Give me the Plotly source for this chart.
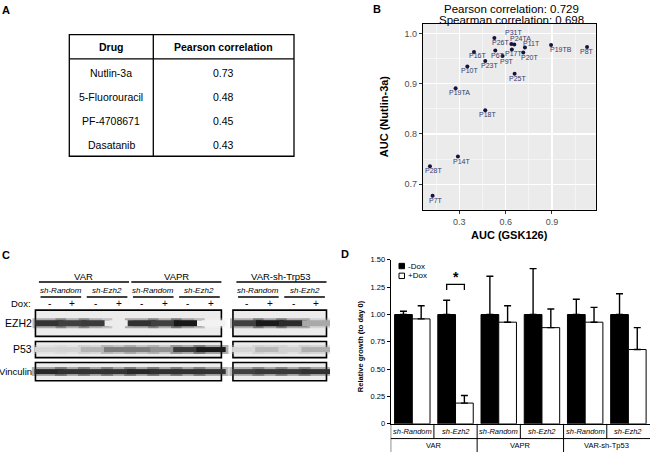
import plotly.graph_objects as go

W, H = 650, 457
FONT = "Arial, Liberation Sans, sans-serif"


def px(x):
    return x / W


def py(y):
    return 1 - y / H


def txt(text, x, y, xref="paper", yref="paper", size=10, xanchor="center", yanchor="middle",
        angle=0, color="black", xshift=0, yshift=0):
    return dict(text=text, x=x, y=y, xref=xref, yref=yref, xanchor=xanchor, yanchor=yanchor,
                showarrow=False, textangle=angle, xshift=xshift, yshift=yshift,
                font=dict(size=size, family=FONT, color=color))


# ---------------- Panel A data ----------------
table_headers = ["Drug", "Pearson correlation"]
drugs = ["Nutlin-3a", "5-Fluorouracil", "PF-4708671", "Dasatanib"]
pearson = ["0.73", "0.48", "0.45", "0.43"]

# ---------------- Panel B data ----------------
samples = ["P26T", "P31T", "P24TA", "P11T", "P19TB", "P8T", "P16T", "P6T", "P17T",
           "P9T", "P20T", "P23T", "P10T", "P25T", "P19TA", "P18T", "P14T", "P28T", "P7T"]
auc_gsk126 = [0.527, 0.637, 0.656, 0.725, 0.894, 1.127, 0.395, 0.533, 0.640,
              0.580, 0.714, 0.468, 0.352, 0.658, 0.276, 0.468, 0.291, 0.110, 0.127]
auc_nutlin = [0.991, 0.979, 0.978, 0.972, 0.977, 0.973, 0.963, 0.966, 0.968,
              0.955, 0.962, 0.945, 0.934, 0.920, 0.891, 0.847, 0.755, 0.736, 0.677]
# label offsets in pixels (style)
label_dx = [6.0, 2.0, 6.3, 6.5, 9.7, 0.0, 3.3, 3.0, 1.3, 4.0, 6.7, 4.0, 1.7, 3.3, 4.3, 2.0, 4.0, 4.0, 3.3]
label_dy = [-4.3, 11.3, 6.3, 3.7, -4.3, -4.7, -3.7, -4.7, -4.3, -5.0, -5.0, -4.0, -4.3, -4.7,
            -4.7, -4.3, -4.7, -4.7, -4.7]
pearson_r = "0.729"
spearman_r = "0.698"
b_xticks = [0.3, 0.6, 0.9]
b_yticks = [0.7, 0.8, 0.9, 1.0]

# ---------------- Panel C data ----------------
blot_groups = ["VAR", "VAPR", "VAR-sh-Trp53"]
blot_block = [0, 0, 1]
hairpins = ["sh-Random", "sh-Ezh2"]
dox_states = ["-", "+"]
proteins = ["EZH2", "P53", "Vinculin"]
band_ezh2 = [0.85, 0.80, 0.82, 0.03, 0.86, 0.80, 0.96, 0.0, 0.80, 0.95, 0.88, 0.35]
band_p53 = [0.14, 0.15, 0.30, 0.55, 0.55, 0.45, 0.82, 0.95, 0.14, 0.28, 0.16, 0.32]
band_vinculin = [0.90, 0.86, 0.85, 0.85, 0.90, 0.86, 0.86, 0.85, 0.80, 0.83, 0.83, 0.86]
bands = [band_ezh2, band_p53, band_vinculin]

# ---------------- Panel D data ----------------
d_groups = ["VAR", "VAPR", "VAR-sh-Tp53"]
d_hairpins = ["sh-Random", "sh-Ezh2"]
minus_dox = [1.00, 1.00, 1.00, 1.00, 1.00, 1.00]
minus_dox_err = [0.03, 0.13, 0.35, 0.42, 0.14, 0.19]
plus_dox = [0.96, 0.19, 0.93, 0.88, 0.93, 0.68]
plus_dox_err = [0.12, 0.07, 0.15, 0.17, 0.135, 0.20]
d_yticks = [0, 0.25, 0.5, 0.75, 1.0, 1.25, 1.5]
d_yticktext = ["0", "0.25", "0.50", "0.75", "1.00", "1.25", "1.50"]
sig_category = 1

fig = go.Figure()
shapes = []
ann = []

# ======== Panel letters ========
for letter, (lx, ly) in zip("ABCD", [(0, 6), (371, 5), (0, 256), (339, 255)]):
    ann.append(txt("<b>%s</b>" % letter, px(lx), py(ly), size=11, xanchor="left"))

# ======== Panel A: table ========
tL, tR, tT, tB = 69.3, 294.0, 31.3, 155.3
tMid, tHead = 153.3, 56.0
shapes.append(dict(type="rect", xref="paper", yref="paper", x0=px(tL), x1=px(tR),
                   y0=py(tB), y1=py(tT), line=dict(color="black", width=1.3)))
shapes.append(dict(type="line", xref="paper", yref="paper", x0=px(tMid), x1=px(tMid),
                   y0=py(tB), y1=py(tT), line=dict(color="black", width=1.3)))
shapes.append(dict(type="line", xref="paper", yref="paper", x0=px(tL), x1=px(tR),
                   y0=py(tHead), y1=py(tHead), line=dict(color="black", width=1.3)))
col_c = [(tL + tMid) / 2, (tMid + tR) / 2]
for j, h in enumerate(table_headers):
    ann.append(txt("<b>%s</b>" % h, px(col_c[j]), py(44.3), size=10.5))
row_h = 24.6
for i, (d, r) in enumerate(zip(drugs, pearson)):
    yy = 70.0 + i * row_h
    ann.append(txt(d, px(col_c[0]), py(yy), size=10.5))
    ann.append(txt(r, px(col_c[1]), py(yy), size=10.5))

# ======== Panel B: scatter ========
shapes.append(dict(type="rect", xref="x domain", yref="y domain", x0=0, x1=1, y0=0, y1=1,
                   fillcolor="#ebebeb", line=dict(width=0), layer="below"))
fig.add_trace(go.Scatter(
    x=auc_gsk126, y=auc_nutlin, mode="markers", cliponaxis=False,
    marker=dict(size=4, color="#14143c"),
    xaxis="x", yaxis="y", showlegend=False, hoverinfo="skip"))
for s, xv, yv, dx, dy in zip(samples, auc_gsk126, auc_nutlin, label_dx, label_dy):
    ann.append(txt(s, xv, yv, xref="x", yref="y", size=7, color="#3a3a6e", xshift=dx, yshift=dy))
ann.append(txt("Pearson correlation: %s" % pearson_r, px(511.5), py(5.5), size=11.5))
ann.append(txt("Spearman correlation: %s" % spearman_r, px(511.5), py(16.3), size=11.5))
ann.append(txt("<b>AUC (GSK126)</b>", px(509), py(235.5), size=11))
ann.append(txt("<b>AUC (Nutlin-3a)</b>", px(383.5), py(115), size=11, angle=-90))

# ======== Panel C: western blot ========
lane_unit = 23.1
lane0_px = 49.3
block_gap = 0.55
lanes = []
lane_group = []
for g, blk in enumerate(blot_block):
    for h in range(len(hairpins)):
        for d in range(len(dox_states)):
            k = len(lanes)
            lanes.append(k + blk * block_gap)
            lane_group.append((g, h, d))


def cx(pxv):
    return (pxv - lane0_px) / lane_unit


row_top = [312.3, 344.3, 365.7]
row_bot = [339.0, 360.7, 384.3]
band_thick = [6, 5, 5]
band_len = [20, 21, 21]
gray_scale = [[0, "#f2f2f2"], [0.5, "#8a8a8a"], [1, "#0e0e0e"]]

for blk in sorted(set(blot_block)):
    xs = [lanes[i] for i in range(len(lanes)) if blot_block[lane_group[i][0]] == blk]
    for r in range(len(proteins)):
        shapes.append(dict(type="rect", xref="x3", yref="y3", x0=min(xs) - 0.6, x1=max(xs) + 0.45,
                           y0=row_top[r], y1=row_bot[r], fillcolor="#ececec",
                           line=dict(color="black", width=1.6), layer="below"))

for r, prot in enumerate(proteins):
    yc = (row_top[r] + row_bot[r]) / 2
    fig.add_trace(go.Scatter(
        x=lanes, y=[yc] * len(lanes), mode="markers", xaxis="x3", yaxis="y3",
        marker=dict(symbol="line-ew", size=band_len[r] + 4, opacity=0.35,
                    line=dict(width=band_thick[r] + 4, color=bands[r], colorscale=gray_scale,
                              cmin=0, cmax=1)),
        showlegend=False, hoverinfo="skip"))
    fig.add_trace(go.Scatter(
        x=lanes, y=[yc] * len(lanes), mode="markers", xaxis="x3", yaxis="y3",
        marker=dict(symbol="line-ew", size=band_len[r],
                    line=dict(width=band_thick[r], color=bands[r], colorscale=gray_scale,
                              cmin=0, cmax=1)),
        showlegend=False, hoverinfo="skip"))
    ann.append(txt(prot, cx(34.0), yc - 0.5, xref="x3", yref="y3", xanchor="right",
                   size=10.5 if prot != "Vinculin" else 9.5))

for g, name in enumerate(blot_groups):
    xs = [lanes[i] for i in range(len(lanes)) if lane_group[i][0] == g]
    ann.append(txt(name, (min(xs) + max(xs)) / 2, 277.7, xref="x3", yref="y3", size=9.5))
    shapes.append(dict(type="line", xref="x3", yref="y3", x0=min(xs) - 0.45, x1=max(xs) + 0.45,
                       y0=283.5, y1=283.5, line=dict(color="black", width=1.5)))
    for h, hp in enumerate(hairpins):
        xh = [lanes[i] for i in range(len(lanes)) if lane_group[i][0] == g and lane_group[i][1] == h]
        ann.append(txt("<i>%s</i>" % hp, (min(xh) + max(xh)) / 2, 292.5, xref="x3", yref="y3",
                       size=8))
        shapes.append(dict(type="line", xref="x3", yref="y3", x0=min(xh) - 0.38, x1=max(xh) + 0.38,
                           y0=298.8, y1=298.8, line=dict(color="black", width=1.5)))
for i, xl in enumerate(lanes):
    ann.append(txt(dox_states[lane_group[i][2]], xl, 305.5, xref="x3", yref="y3", size=10))
ann.append(txt("Dox:", cx(32.5), 305.5, xref="x3", yref="y3", xanchor="right", size=9.5))

# ======== Panel D: bars ========
cats = list(range(len(d_groups) * len(d_hairpins)))
fig.add_trace(go.Bar(
    x=cats, y=minus_dox, name="-Dox", xaxis="x2", yaxis="y2",
    marker=dict(color="black", line=dict(color="black", width=1)),
    error_y=dict(type="data", array=minus_dox_err, arrayminus=[0] * len(cats), symmetric=False,
                 color="black", thickness=1.4, width=3.5),
    showlegend=False, hoverinfo="skip"))
fig.add_trace(go.Bar(
    x=cats, y=plus_dox, name="+Dox", xaxis="x2", yaxis="y2",
    marker=dict(color="white", line=dict(color="black", width=1)),
    error_y=dict(type="data", array=plus_dox_err, arrayminus=[0] * len(cats), symmetric=False,
                 color="black", thickness=1.4, width=3.5),
    showlegend=False, hoverinfo="skip"))

bar_half = 0.205
sig_lo, sig_hi = 1.224, 1.275
fig.add_trace(go.Scatter(
    x=[sig_category - bar_half, sig_category - bar_half, sig_category + bar_half,
       sig_category + bar_half],
    y=[sig_lo, sig_hi, sig_hi, sig_lo], mode="lines", xaxis="x2", yaxis="y2",
    line=dict(color="black", width=1.3), showlegend=False, hoverinfo="skip"))
ann.append(txt("<b>*</b>", sig_category, 1.34, xref="x2", yref="y2", size=14))

for i, (lab, col) in enumerate([("-Dox", "black"), ("+Dox", "white")]):
    yc = 267.3 + i * 10
    shapes.append(dict(type="rect", xref="paper", yref="paper", x0=px(399), x1=px(404.5),
                       y0=py(yc + 2.75), y1=py(yc - 2.75), fillcolor=col,
                       line=dict(color="black", width=1)))
    ann.append(txt(lab, px(405.5), py(yc), xanchor="left", size=8))

ann.append(txt("<b>Relative growth (to day 0)</b>", px(360), py(349), size=7.5, angle=-90))

base_px, mid_px = 428.3, 443.3
shapes.append(dict(type="line", xref="x2", yref="paper", x0=-0.5, x1=-0.5, y0=0, y1=py(base_px),
                   line=dict(color="black", width=1)))
shapes.append(dict(type="line", xref="x2", yref="paper", x0=-0.5, x1=len(cats) - 0.5,
                   y0=py(mid_px), y1=py(mid_px), line=dict(color="black", width=1)))
nh = len(d_hairpins)
for k in cats[:-1]:
    is_group_edge = (k + 1) % nh == 0
    shapes.append(dict(type="line", xref="x2", yref="paper", x0=k + 0.5, x1=k + 0.5,
                       y0=0 if is_group_edge else py(mid_px), y1=py(base_px),
                       line=dict(color="black", width=1)))
for k in cats:
    ann.append(txt("<i>%s</i>" % d_hairpins[k % nh], k, py(436.3), xref="x2", size=7.5))
for g, name in enumerate(d_groups):
    ann.append(txt(name, g * nh + (nh - 1) / 2, py(450.5), xref="x2", size=7.5))

# ======== Layout ========
c_range = [cx(0), cx(330)]
fig.update_layout(
    width=W, height=H, margin=dict(l=0, r=0, t=0, b=0),
    paper_bgcolor="white", plot_bgcolor="rgba(0,0,0,0)",
    font=dict(family=FONT, color="black"),
    barmode="group", bargap=0.18, bargroupgap=0,
    xaxis=dict(domain=[px(422.7), px(595.7)], range=[0.063, 1.183], anchor="y",
               tickvals=b_xticks, ticktext=["%.1f" % v for v in b_xticks],
               showgrid=True, gridcolor="white", gridwidth=1.1,
               minor=dict(tickvals=[0.15, 0.45, 0.75, 1.05], showgrid=True, gridcolor="white",
                          gridwidth=0.5, ticks=""),
               zeroline=False, showline=True, mirror=True, linecolor="black", linewidth=1,
               ticks="outside", ticklen=3, tickcolor="#333333",
               tickfont=dict(size=9, color="#4d4d4d", family=FONT)),
    yaxis=dict(domain=[py(210), py(20)], range=[0.649, 1.0195], anchor="x",
               tickvals=b_yticks, ticktext=["%.1f" % v for v in b_yticks],
               showgrid=True, gridcolor="white", gridwidth=1.1,
               minor=dict(tickvals=[0.65, 0.75, 0.85, 0.95], showgrid=True, gridcolor="white",
                          gridwidth=0.5, ticks=""),
               zeroline=False, showline=True, mirror=True, linecolor="black", linewidth=1,
               ticks="outside", ticklen=3, tickcolor="#333333",
               tickfont=dict(size=9, color="#4d4d4d", family=FONT)),
    xaxis2=dict(domain=[px(390.7), 1.0], range=[-0.5, len(cats) - 0.5], anchor="y2",
                showticklabels=False, ticks="", showgrid=False, zeroline=False,
                showline=True, linecolor="black", linewidth=1),
    yaxis2=dict(domain=[py(base_px), py(261)], range=[0, 1.5], anchor="x2", side="left",
                tickvals=d_yticks, ticktext=d_yticktext, showgrid=False, zeroline=False,
                showline=True, linecolor="black", linewidth=1, ticks="outside", ticklen=3,
                tickcolor="black", tickfont=dict(size=7.5, family=FONT, color="black")),
    xaxis3=dict(domain=[0, px(330)], range=c_range, anchor="y3", visible=False),
    yaxis3=dict(domain=[0, py(250)], range=[457, 250], anchor="x3", visible=False),
    shapes=shapes, annotations=ann,
)

fig.write_html("out.html", config={"displayModeBar": False, "staticPlot": True},
               post_script="document.body.style.margin='0';document.body.style.overflow='hidden';")
